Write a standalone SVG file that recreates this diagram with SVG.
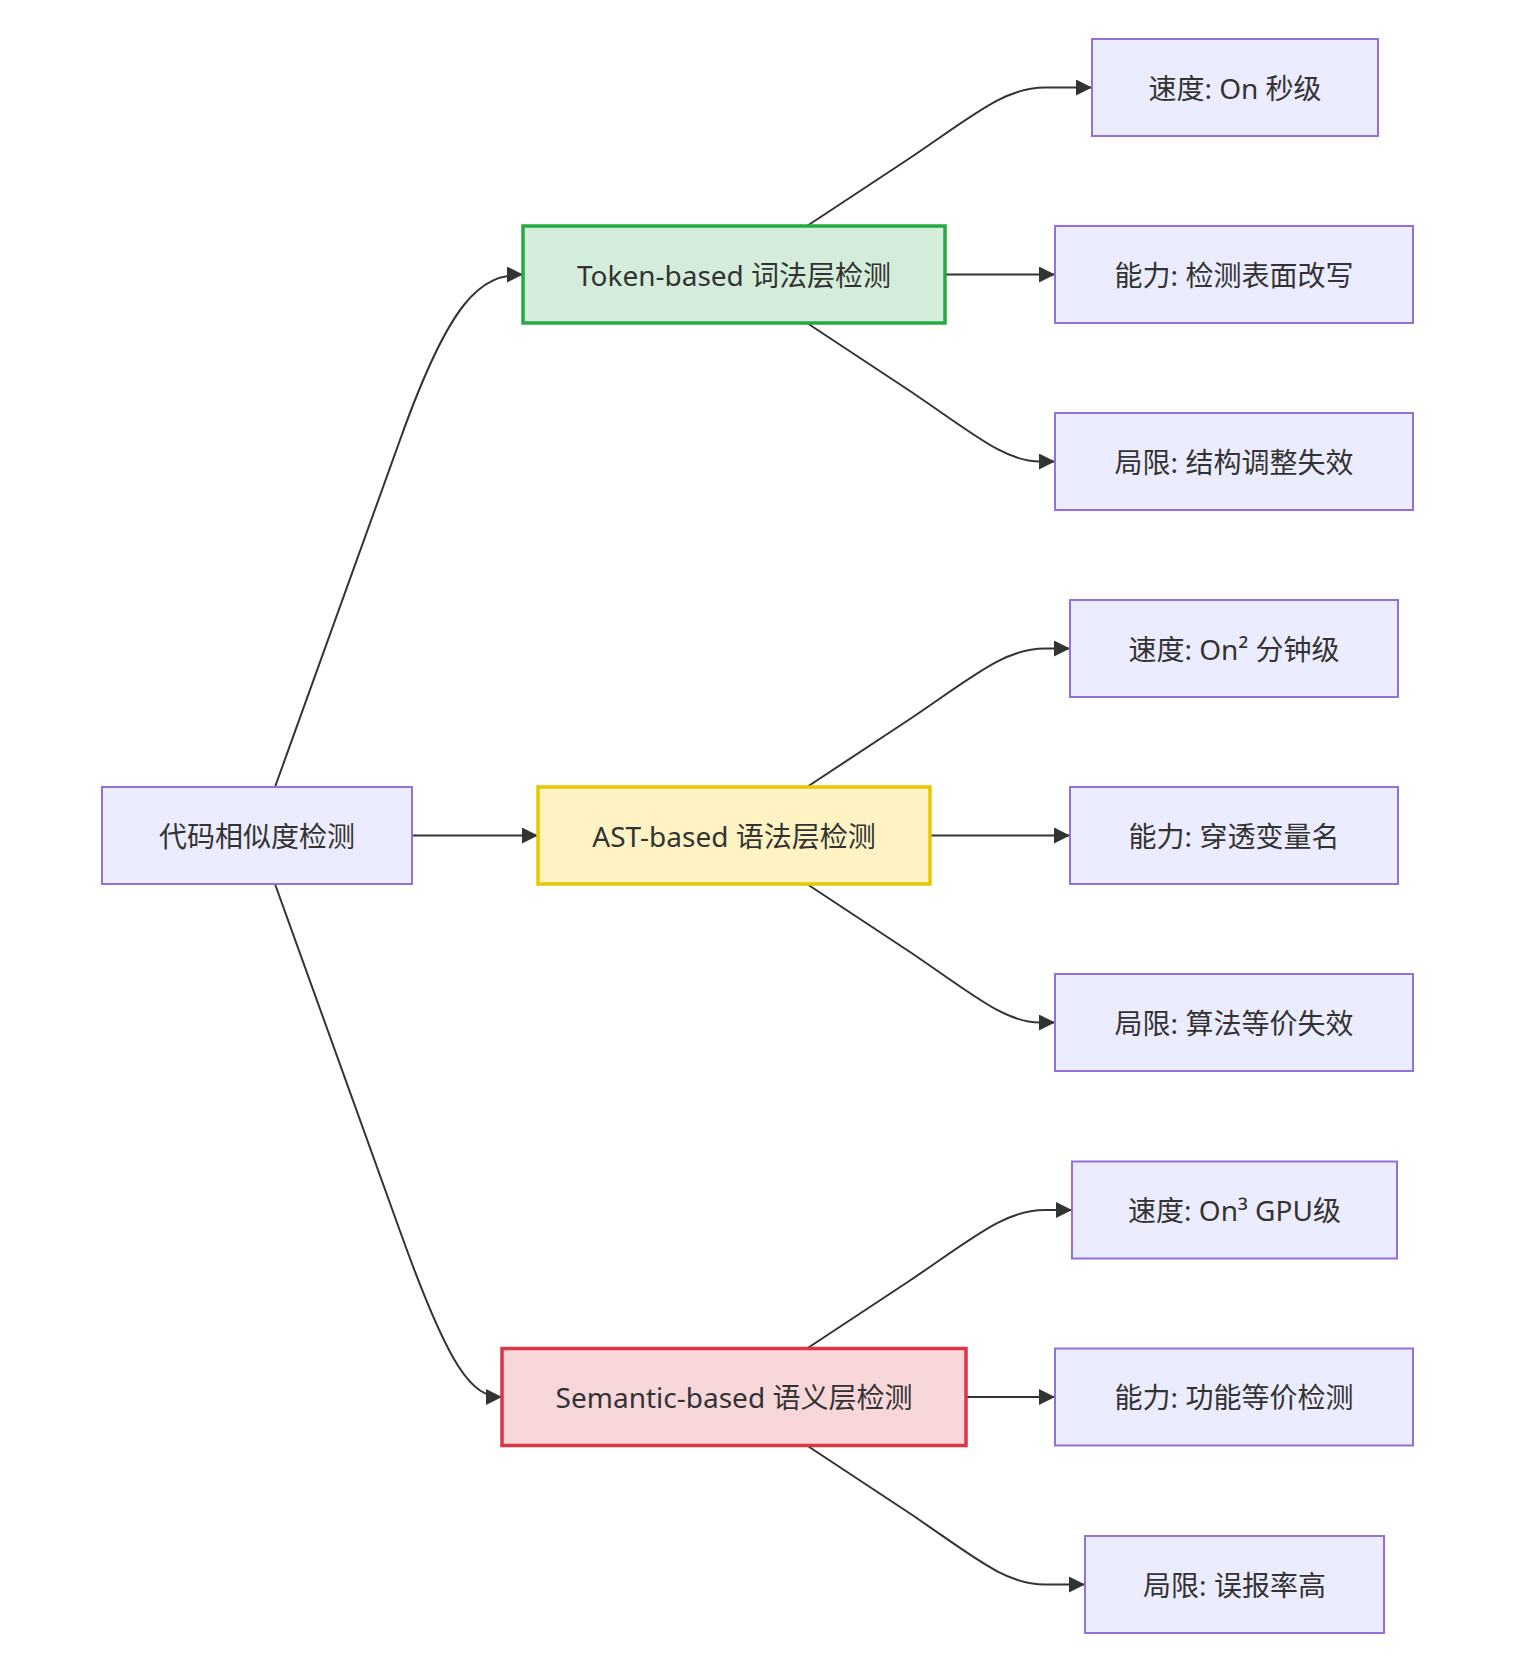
<svg xmlns="http://www.w3.org/2000/svg" width="1524" height="1670" viewBox="0 0 1524 1670">
<style>
.n rect{fill:#ECECFF;stroke:#9370DB;stroke-width:2}
.n text{font-family:"Noto Sans","Noto Sans CJK SC",sans-serif;font-size:28px;fill:#333;text-anchor:middle;dominant-baseline:central}
#token rect{fill:#d4edda;stroke:#28a745;stroke-width:3.5}
#ast rect{fill:#fff3c4;stroke:#e6c800;stroke-width:3.5}
#semantic rect{fill:#f8d7da;stroke:#dc3545;stroke-width:3.5}
.e path{fill:none;stroke:#333;stroke-width:2}
</style>
<defs>
<marker id="arr" viewBox="0 0 10 10" refX="10" refY="5" markerWidth="8" markerHeight="8" markerUnits="strokeWidth" orient="auto">
<path d="M0,0 L10,5 L0,10 z" fill="#333"/>
</marker>
</defs>
<g class="e" id="connectors">
<path d="M275,787 L400,440 C450,300 480,274.5 523,274.5" marker-end="url(#arr)"/>
<path d="M412,835.5 L538,835.5" marker-end="url(#arr)"/>
<path d="M275,884 L400,1231 C450,1371 472,1397 502,1397" marker-end="url(#arr)"/>
<path d="M807,226 L910,158 C975,114 1005,87.5 1045,87.5 L1092,87.5" marker-end="url(#arr)"/>
<path d="M945,274.5 L1055,274.5" marker-end="url(#arr)"/>
<path d="M807,323 L910,391 C975,435 1005,461.5 1040,461.5 L1055,461.5" marker-end="url(#arr)"/>
<path d="M807,787 L910,719 C975,675 1005,648.5 1045,648.5 L1070,648.5" marker-end="url(#arr)"/>
<path d="M930,835.5 L1070,835.5" marker-end="url(#arr)"/>
<path d="M807,884 L910,952 C975,996 1005,1022.5 1040,1022.5 L1055,1022.5" marker-end="url(#arr)"/>
<path d="M807,1348.5 L910,1280.5 C975,1236.5 1005,1210 1045,1210 L1072,1210" marker-end="url(#arr)"/>
<path d="M966,1397 L1055,1397" marker-end="url(#arr)"/>
<path d="M807,1445.5 L910,1513.5 C975,1557.5 1005,1584.5 1045,1584.5 L1085,1584.5" marker-end="url(#arr)"/>
</g>
<g class="n" id="root"><rect x="102" y="787" width="310" height="97"/><text x="257" y="835.5">代码相似度检测</text></g>
<g class="n" id="token"><rect x="523" y="226" width="422" height="97"/><text x="734" y="274.5">Token-based 词法层检测</text></g>
<g class="n" id="ast"><rect x="538" y="787" width="392" height="97"/><text x="734" y="835.5">AST-based 语法层检测</text></g>
<g class="n" id="semantic"><rect x="502" y="1348.5" width="464" height="97"/><text x="734" y="1397">Semantic-based 语义层检测</text></g>
<g class="n" id="t1"><rect x="1092" y="39" width="286" height="97"/><text x="1235" y="87.5">速度: On 秒级</text></g>
<g class="n" id="t2"><rect x="1055" y="226" width="358" height="97"/><text x="1234" y="274.5">能力: 检测表面改写</text></g>
<g class="n" id="t3"><rect x="1055" y="413" width="358" height="97"/><text x="1234" y="461.5">局限: 结构调整失效</text></g>
<g class="n" id="a1"><rect x="1070" y="600" width="328" height="97"/><text x="1234" y="648.5">速度: On² 分钟级</text></g>
<g class="n" id="a2"><rect x="1070" y="787" width="328" height="97"/><text x="1234" y="835.5">能力: 穿透变量名</text></g>
<g class="n" id="a3"><rect x="1055" y="974" width="358" height="97"/><text x="1234" y="1022.5">局限: 算法等价失效</text></g>
<g class="n" id="s1"><rect x="1072" y="1161.5" width="325" height="97"/><text x="1234.5" y="1210">速度: On³ GPU级</text></g>
<g class="n" id="s2"><rect x="1055" y="1348.5" width="358" height="97"/><text x="1234" y="1397">能力: 功能等价检测</text></g>
<g class="n" id="s3"><rect x="1085" y="1536" width="299" height="97"/><text x="1234.5" y="1584.5">局限: 误报率高</text></g>
</svg>
